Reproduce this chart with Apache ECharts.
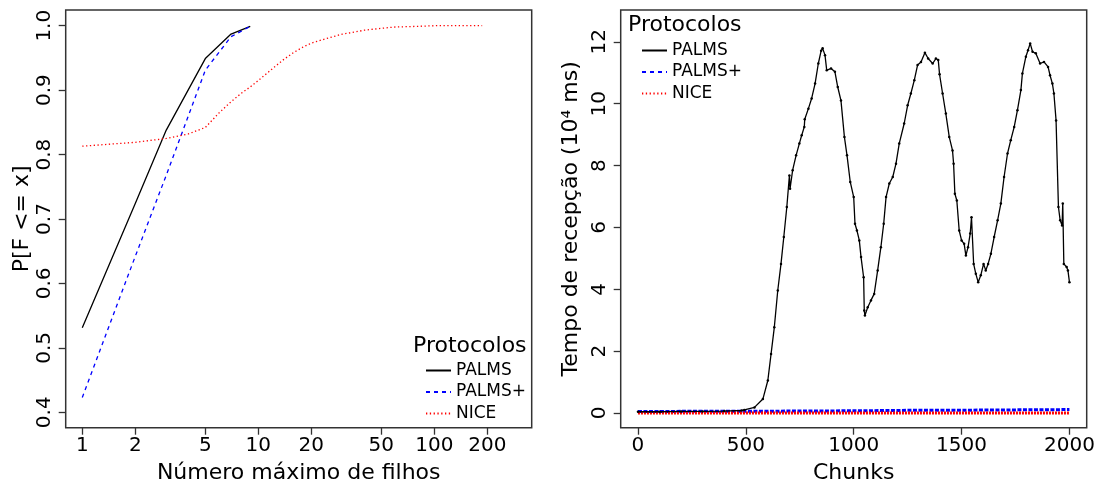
<!DOCTYPE html>
<html>
<head>
<meta charset="utf-8">
<script src="https://cdn.jsdelivr.net/npm/echarts@6/dist/echarts.min.js"></script>
<style>
    html, body { margin: 0; padding: 0; background: #fff; }
    #chart { width: 1105px; height: 486px; }
</style>
</head>
<body>
<div id="chart"></div>
<script>
// left panel: CDF of max children (log x)
const filhosTicks = [1, 2, 5, 10, 20, 50, 100, 200];
const probTicks = [0.4, 0.5, 0.6, 0.7, 0.8, 0.9, 1.0];
const palmsFilhos = [1, 2, 3, 5, 7, 9];
const palmsProb = [0.531, 0.724, 0.838, 0.949, 0.987, 0.999];
const palmsPlusFilhos = [1, 2, 3, 5, 7, 9];
const palmsPlusProb = [0.423, 0.642, 0.768, 0.931, 0.983, 0.999];
const niceFilhos = [1, 2, 3, 4, 5, 6, 7, 8, 9, 10, 12, 14, 16, 18, 20, 25, 30, 35, 40, 50, 60, 80, 100, 150, 187];
const niceProb = [0.813, 0.819, 0.825, 0.832, 0.842, 0.865, 0.882, 0.895, 0.905, 0.915, 0.933, 0.948, 0.959, 0.967, 0.973, 0.981, 0.987, 0.990, 0.993, 0.996, 0.998, 0.999, 1.0, 1.0, 1.0];

// right panel: reception time per chunk (10^4 ms)
const chunkTicks = [0, 500, 1000, 1500, 2000];
const tempoTicks = [0, 2, 4, 6, 8, 10, 12];
const palmsTempo = [
    [0, 0.04], [100, 0.04], [200, 0.05], [300, 0.05], [400, 0.06], [480, 0.08],
    [493, 0.10], [540, 0.18], [579, 0.45], [602, 1.05], [617, 1.91], [632, 2.77],
    [648, 3.96], [663, 4.82], [676, 5.69], [690, 6.66], [702, 7.68], [705, 7.25],
    [717, 7.85], [733, 8.33], [748, 8.71], [759, 8.98], [771, 9.25], [773, 9.5],
    [790, 9.84], [805, 10.17], [821, 10.65], [836, 11.3], [849, 11.71], [856, 11.79],
    [867, 11.57], [875, 11.08], [895, 11.14], [913, 11.03], [926, 10.54], [941, 10.1],
    [957, 8.92], [969, 8.33], [984, 7.47], [1000, 6.98], [1006, 6.12], [1015, 5.90],
    [1026, 5.58], [1034, 5.04], [1046, 4.39], [1049, 3.31], [1052, 3.15], [1065, 3.42],
    [1080, 3.64], [1095, 3.85], [1111, 4.61], [1126, 5.36], [1139, 6.12], [1150, 6.98],
    [1165, 7.42], [1181, 7.63], [1196, 8.06], [1211, 8.71], [1234, 9.36], [1250, 9.95],
    [1265, 10.33], [1281, 10.76], [1296, 11.25], [1312, 11.35], [1330, 11.65], [1345, 11.46],
    [1366, 11.30], [1381, 11.46], [1392, 11.41], [1398, 10.95], [1412, 10.33], [1427, 9.68],
    [1443, 8.92], [1458, 8.49], [1463, 8.06], [1469, 7.09], [1478, 6.87], [1489, 5.90],
    [1500, 5.58], [1512, 5.47], [1520, 5.09], [1530, 5.36], [1540, 5.80], [1546, 6.33],
    [1556, 4.82], [1566, 4.50], [1577, 4.23], [1589, 4.45], [1602, 4.82], [1612, 4.61],
    [1623, 4.82], [1636, 5.15], [1651, 5.69], [1667, 6.23], [1682, 6.77], [1697, 7.63],
    [1713, 8.39], [1728, 8.82], [1744, 9.25], [1759, 9.79], [1775, 10.44], [1782, 10.98],
    [1798, 11.52], [1808, 11.73], [1818, 11.95], [1829, 11.68], [1844, 11.63], [1864, 11.30],
    [1882, 11.35], [1901, 11.19], [1910, 10.92], [1921, 10.65], [1928, 10.33], [1938, 9.46],
    [1949, 6.66], [1957, 6.23], [1966, 6.06], [1969, 6.77], [1974, 4.82], [1987, 4.72],
    [1993, 4.61], [2000, 4.23]
];
const palmsPlusChunks = [0, 500, 1000, 1250, 1500, 1750, 2000];
const palmsPlusTempo = [0.05, 0.055, 0.07, 0.085, 0.09, 0.10, 0.11];
const niceChunks = [0, 500, 1000, 1500, 2000];
const niceTempo = [0.0, 0.0, 0.0, 0.0, 0.0];

const protocolos = ['PALMS', 'PALMS+', 'NICE'];

const FONT = 'DejaVu Sans';
const AXIS_COLOR = '#333';

const zip = (xs, ys) => xs.map((x, i) => [x, ys[i]]);

const chart = echarts.init(document.getElementById('chart'), null, { renderer: 'canvas' });

const tickStyle = {
    show: true,
    inside: false,
    length: 7,
    lineStyle: { color: AXIS_COLOR, width: 1.3 }
};
const lineOff = { show: false, onZero: false };
const labelStyle = { color: '#000', fontSize: 20, fontFamily: FONT };
const nameStyle = { color: '#000', fontSize: 22, fontFamily: FONT };

const legendCommon = {
    orient: 'vertical',
    data: protocolos,
    itemWidth: 25,
    itemHeight: 14,
    itemGap: 4.5,
    padding: 0,
    selectedMode: false,
    itemStyle: { opacity: 0 },
    textStyle: { color: '#000', fontSize: 17, fontFamily: FONT }
};

const option = {
    animation: false,
    backgroundColor: '#fff',
    grid: [
        { left: 65.7, right: 573.3, top: 10, bottom: 58.3, outerBoundsMode: 'none', containLabel: false, show: true, borderColor: AXIS_COLOR, borderWidth: 1.5 },
        { left: 620.7, right: 18.3, top: 10, bottom: 58.3, outerBoundsMode: 'none', containLabel: false, show: true, borderColor: AXIS_COLOR, borderWidth: 1.5 }
    ],
    xAxis: [
        {
            type: 'log',
            gridIndex: 0,
            min: 0.805,
            max: 357.5,
            name: 'Número máximo de filhos',
            nameLocation: 'middle',
            nameGap: 35,
            nameTextStyle: nameStyle,
            axisLine: lineOff,
            axisTick: Object.assign({ customValues: filhosTicks }, tickStyle),
            axisLabel: Object.assign({ customValues: filhosTicks, margin: 8, formatter: v => String(v) }, labelStyle),
            splitLine: { show: false }
        },
        {
            type: 'value',
            gridIndex: 1,
            min: -80,
            max: 2080,
            name: 'Chunks',
            nameLocation: 'middle',
            nameGap: 35,
            nameTextStyle: nameStyle,
            axisLine: lineOff,
            axisTick: Object.assign({ customValues: chunkTicks }, tickStyle),
            axisLabel: Object.assign({ customValues: chunkTicks, margin: 8, formatter: v => String(v) }, labelStyle),
            splitLine: { show: false }
        }
    ],
    yAxis: [
        {
            type: 'value',
            gridIndex: 0,
            min: 0.376,
            max: 1.0244,
            name: 'P[F <= x]',
            nameLocation: 'middle',
            nameGap: 32,
            nameTextStyle: nameStyle,
            axisLine: lineOff,
            axisTick: Object.assign({ customValues: probTicks }, tickStyle),
            axisLabel: Object.assign({ customValues: probTicks, margin: 11, rotate: 90, formatter: v => v.toFixed(1) }, labelStyle),
            splitLine: { show: false }
        },
        {
            type: 'value',
            gridIndex: 1,
            min: -0.476,
            max: 13.03,
            name: 'Tempo de recepção (10⁴ ms)',
            nameLocation: 'middle',
            nameGap: 38,
            nameTextStyle: nameStyle,
            axisLine: lineOff,
            axisTick: Object.assign({ customValues: tempoTicks }, tickStyle),
            axisLabel: Object.assign({ customValues: tempoTicks, margin: 11, rotate: 90, formatter: v => String(v) }, labelStyle),
            splitLine: { show: false }
        }
    ],
    legend: [
        Object.assign({ left: 425, top: 362 }, legendCommon),
        Object.assign({ left: 641, top: 42 }, legendCommon)
    ],
    graphic: [
        { type: 'text', left: 413, top: 335, style: { text: 'Protocolos', font: '22px "DejaVu Sans"', fill: '#000' } },
        { type: 'text', left: 628, top: 14, style: { text: 'Protocolos', font: '22px "DejaVu Sans"', fill: '#000' } }
    ],
    series: [
        {
            name: 'PALMS', type: 'line', xAxisIndex: 0, yAxisIndex: 0,
            data: zip(palmsFilhos, palmsProb), symbol: 'none',
            lineStyle: { color: '#000', width: 1.3, type: 'solid' }, itemStyle: { color: '#000' }
        },
        {
            name: 'PALMS+', type: 'line', xAxisIndex: 0, yAxisIndex: 0,
            data: zip(palmsPlusFilhos, palmsPlusProb), symbol: 'none',
            lineStyle: { color: '#0000ff', width: 1.3, type: [4, 4] }, itemStyle: { color: '#0000ff' }
        },
        {
            name: 'NICE', type: 'line', xAxisIndex: 0, yAxisIndex: 0,
            data: zip(niceFilhos, niceProb), symbol: 'none',
            lineStyle: { color: '#ff0000', width: 1.3, type: [1.3, 2.5] }, itemStyle: { color: '#ff0000' }
        },
        {
            name: 'PALMS+', type: 'line', xAxisIndex: 1, yAxisIndex: 1,
            data: zip(palmsPlusChunks, palmsPlusTempo), symbol: 'none',
            lineStyle: { color: '#0000ff', width: 3, type: [4, 1.5] }, itemStyle: { color: '#0000ff' }
        },
        {
            name: 'NICE', type: 'line', xAxisIndex: 1, yAxisIndex: 1,
            data: zip(niceChunks, niceTempo), symbol: 'none',
            lineStyle: { color: '#ff0000', width: 3, type: [2, 1] }, itemStyle: { color: '#ff0000' }
        },
        {
            name: 'PALMS', type: 'line', xAxisIndex: 1, yAxisIndex: 1,
            data: palmsTempo, symbol: 'circle', symbolSize: 2.5, showAllSymbol: true,
            lineStyle: { color: '#000', width: 1.3 }, itemStyle: { color: '#000' }
        }
    ]
};

chart.setOption(option);
</script>
</body>
</html>
